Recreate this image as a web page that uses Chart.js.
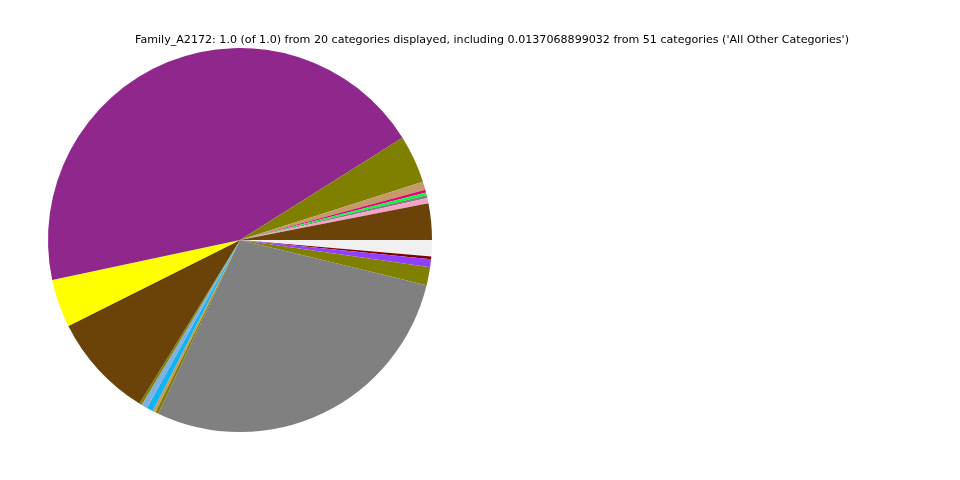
<!DOCTYPE html>
<html>
<head>
<meta charset="utf-8">
<script src="https://cdn.jsdelivr.net/npm/chart.js@4"></script>
<style>
html,body{margin:0;padding:0;background:#fff;}
#wrap{width:960px;height:480px;position:relative;}
</style>
</head>
<body>
<div id="wrap"><canvas id="c" width="960" height="480"></canvas></div>
<script>
// Slices in matplotlib order (counter-clockwise from 3 o'clock)
const categories = [
  "Cat_01","Cat_02","Cat_03","Cat_04","Cat_05","Cat_06","Cat_07","Cat_08","Cat_09","Cat_10",
  "Cat_11","Cat_12","Cat_13","Cat_14","Cat_15","Cat_16","Cat_17","Cat_18","Cat_19","All Other Categories"
];
const values = [
  0.0306, 0.0044, 0.0025, 0.0022, 0.0025, 0.0069, 0.0403, 0.4439, 0.0406, 0.0883,
  0.0022, 0.0050, 0.0055, 0.0025, 0.0025, 0.2822, 0.0153, 0.0067, 0.0022, 0.0137068899032
];
const colors = [
  "#6B4309", "#F5A3C8", "#808080", "#00FF33", "#E4007F", "#C49A6A", "#808000", "#90278C", "#FFFF00", "#6B4309",
  "#808000", "#80B0E0", "#10B4F0", "#C49A6A", "#808000", "#808080", "#808000", "#9040FF", "#800000", "#F0F0F0"
];
const titleText = "Family_A2172: 1.0 (of 1.0) from 20 categories displayed, including 0.0137068899032 from 51 categories ('All Other Categories')";

// Chart.js draws clockwise from its rotation angle; reverse to mimic counter-clockwise order
const revLabels = categories.slice().reverse();
const revValues = values.slice().reverse();
const revColors = colors.slice().reverse();

const titlePlugin = {
  id: 'customTitle',
  afterDraw(chart) {
    const ctx = chart.ctx;
    ctx.save();
    ctx.font = '11.1px "DejaVu Sans"';
    ctx.fillStyle = '#000';
    ctx.textAlign = 'center';
    ctx.textBaseline = 'middle';
    ctx.fillText(titleText, 492, 40.5);
    ctx.restore();
  }
};

new Chart(document.getElementById('c'), {
  type: 'pie',
  data: {
    labels: revLabels,
    datasets: [{
      data: revValues,
      backgroundColor: revColors,
      borderWidth: 0,
      hoverOffset: 0
    }]
  },
  options: {
    responsive: false,
    animation: false,
    rotation: 90,
    layout: { padding: { left: 48, right: 528, top: 48, bottom: 48 } },
    plugins: {
      legend: { display: false },
      tooltip: { enabled: false },
      title: { display: false }
    }
  },
  plugins: [titlePlugin]
});
</script>
</body>
</html>
